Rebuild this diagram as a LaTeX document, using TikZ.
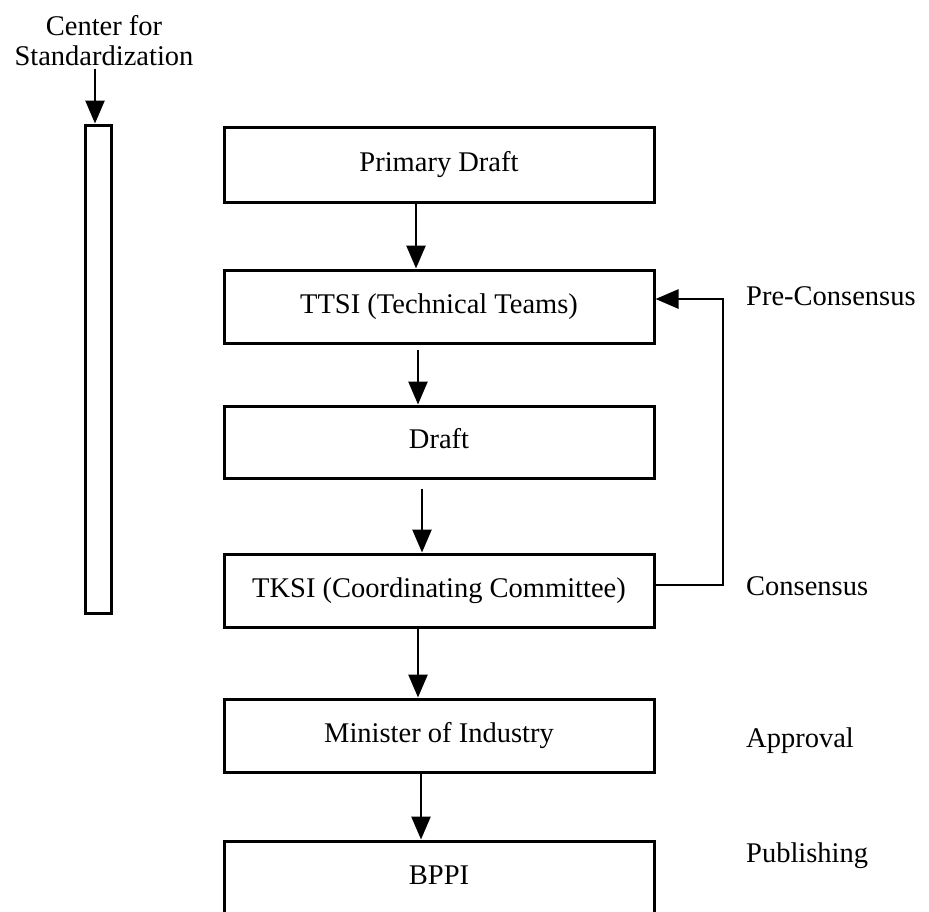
\documentclass[tikz,border=0pt]{standalone}
\usepackage{fontspec}
\setmainfont{Liberation Serif}
\usetikzlibrary{arrows.meta}
\begin{document}
\begin{tikzpicture}[x=1pt,y=-1pt,
  txt/.style={font=\fontsize{28.5}{30}\selectfont},
  box/.style={txt, draw, line width=3pt, inner sep=0pt,
    minimum width=430pt, minimum height=73pt,
    text height=19pt, text depth=6pt},
  bar/.style={draw, line width=3pt, inner sep=0pt,
    minimum width=26pt, minimum height=488pt},
  lbl/.style={txt, inner sep=0pt, anchor=base west},
  flow/.style={line width=2.6pt, -{Triangle[width=19pt,length=23pt]}},
  loop/.style={line width=2.6pt, -{Triangle[width=19pt,length=23pt]}},
  ]
\useasboundingbox (0,0) rectangle (929,911);
\clip (0,0) rectangle (929,911);

% left column: issuing body and its bar
\node[txt, align=center, inner sep=0pt, anchor=north] (cs) at (104,15)
  {Center for\\Standardization};
\node[bar] (csbar) at (98,369) {};

% main flow of boxes
\node[box, minimum height=75pt] (pd) at (439,164.5) {Primary Draft};
\node[box] (ttsi) at (439,306.5) {TTSI (Technical Teams)};
\node[box, minimum height=72pt] (draft) at (439,442) {Draft};
\node[box] (tksi) at (439,590.5) {TKSI (Coordinating Committee)};
\node[box] (mind) at (439,735.5) {Minister of Industry};
\node[box] (bppi) at (439,877.5) {BPPI};

% stage labels
\node[lbl] (pre) at (746,305) {Pre-Consensus};
\node[lbl] (cons) at (746,595) {Consensus};
\node[lbl] (appr) at (746,747) {Approval};
\node[lbl] (publ) at (746,862) {Publishing};

% arrow columns
\coordinate (c0) at (95,0);
\coordinate (c1) at (416,0);
\coordinate (c2) at (418,0);
\coordinate (c3) at (422,0);
\coordinate (c4) at (418,0);
\coordinate (c5) at (421,0);
\coordinate (fb) at (723,299);

\draw[flow, shorten <=3pt] (cs.south -| c0) -- (csbar.north -| c0);
\draw[flow] (pd.south -| c1) -- (ttsi.north -| c1);
\draw[flow, shorten <=5pt] (ttsi.south -| c2) -- (draft.north -| c2);
\draw[flow, shorten <=9pt] (draft.south -| c3) -- (tksi.north -| c3);
\draw[flow] (tksi.south -| c4) -- (mind.north -| c4);
\draw[flow] (mind.south -| c5) -- (bppi.north -| c5);

% feedback from the committee back to the technical teams
\draw[loop] ([yshift=5.5pt]tksi.east) -| (fb) -- ([yshift=7.5pt]ttsi.east);
\end{tikzpicture}
\end{document}
